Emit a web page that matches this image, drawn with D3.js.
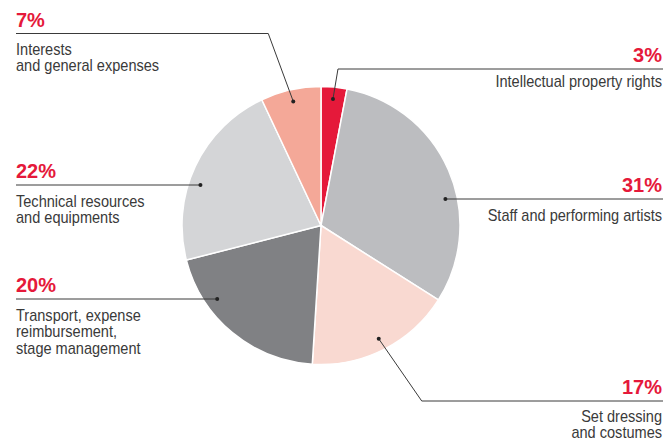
<!DOCTYPE html>
<html>
<head>
<meta charset="utf-8">
<script src="https://cdn.jsdelivr.net/npm/d3@7"></script>
<style>
  html, body { margin: 0; padding: 0; background: #ffffff; }
  svg { display: block; }
</style>
</head>
<body>
<script>
// Budget breakdown, clockwise from twelve o'clock
const categories = [
  ["Intellectual property rights"],
  ["Staff and performing artists"],
  ["Set dressing", "and costumes"],
  ["Transport, expense", "reimbursement,", "stage management"],
  ["Technical resources", "and equipments"],
  ["Interests", "and general expenses"]
];
const shares = [3, 31, 17, 20, 22, 7];
const sliceColors = ["#e5193a", "#bcbdc0", "#f9d9d1", "#808184", "#d4d5d7", "#f4a898"];

// Callout placement: side of the page, y of the rule, horizontal run of a bent leader
const callouts = [
  { side: "right", ruleY: 69,  bend: 5,   textGap: 18 },
  { side: "right", ruleY: 199, bend: null, textGap: 21.5 },
  { side: "right", ruleY: 401, bend: 43,  textGap: 20.5 },
  { side: "left",  ruleY: 299, bend: null, textGap: 21.5 },
  { side: "left",  ruleY: 185, bend: null, textGap: 21.5 },
  { side: "left",  ruleY: 33.5, bend: -25, textGap: 21 }
];

const W = 666, H = 441;
const cx = 321, cy = 225.5, R = 139;
const dotR = R * 0.915;
const leftX = 16, rightX = 662;
const lineStep = 17;
const labelScale = 0.91;

const svg = d3.select("body").append("svg")
  .attr("width", W).attr("height", H);

const data = shares.map((v, i) => ({ value: v, lines: categories[i], color: sliceColors[i], callout: callouts[i] }));

const pie = d3.pie().value(d => d.value).sort(null);
const arc = d3.arc().innerRadius(0).outerRadius(R);
const arcs = pie(data);

const g = svg.append("g").attr("transform", `translate(${cx},${cy})`);
g.selectAll("path.slice")
  .data(arcs)
  .join("path")
  .attr("class", "slice")
  .attr("d", arc)
  .attr("fill", d => d.data.color)
  .attr("stroke", "#ffffff")
  .attr("stroke-width", 1.5)
  .attr("stroke-linejoin", "round");

// Leader lines and labels
const labels = svg.append("g");
arcs.forEach(a => {
  const c = a.data.callout;
  const right = c.side === "right";
  let dot, path;
  if (c.bend === null) {
    const dy = c.ruleY - cy;
    const dx = Math.sqrt(dotR * dotR - dy * dy) * (right ? 1 : -1);
    dot = [cx + dx, c.ruleY];
    path = [dot, [right ? rightX + 1 : leftX, c.ruleY]];
  } else {
    const mid = (a.startAngle + a.endAngle) / 2;
    dot = [cx + dotR * Math.sin(mid), cy - dotR * Math.cos(mid)];
    const elbow = [dot[0] + c.bend, c.ruleY];
    path = [dot, elbow, [right ? rightX + 1 : leftX, c.ruleY]];
  }
  labels.append("path")
    .attr("d", d3.line()(path))
    .attr("fill", "none")
    .attr("stroke", "#3a3a3a")
    .attr("stroke-width", 1);
  labels.append("circle")
    .attr("cx", dot[0]).attr("cy", dot[1]).attr("r", 2)
    .attr("fill", "#222222");

  const ax = right ? rightX : leftX;
  const anchor = right ? "end" : "start";
  labels.append("text")
    .attr("x", ax).attr("y", c.ruleY - 6.8)
    .attr("text-anchor", anchor)
    .attr("font-family", "'Liberation Sans', Arial, Helvetica, sans-serif")
    .attr("font-weight", "bold")
    .attr("font-size", 20)
    .attr("fill", "#e5193a")
    .text(a.data.value + "%");

  const t = labels.append("text")
    .attr("transform", `translate(${ax},${c.ruleY + c.textGap}) scale(${labelScale},1)`)
    .attr("text-anchor", anchor)
    .attr("font-family", "'Liberation Sans', Arial, Helvetica, sans-serif")
    .attr("font-size", 16)
    .attr("fill", "#3a3a3a");
  a.data.lines.forEach((ln, k) => {
    t.append("tspan").attr("x", 0).attr("y", k * lineStep).text(ln);
  });
});
</script>
</body>
</html>
